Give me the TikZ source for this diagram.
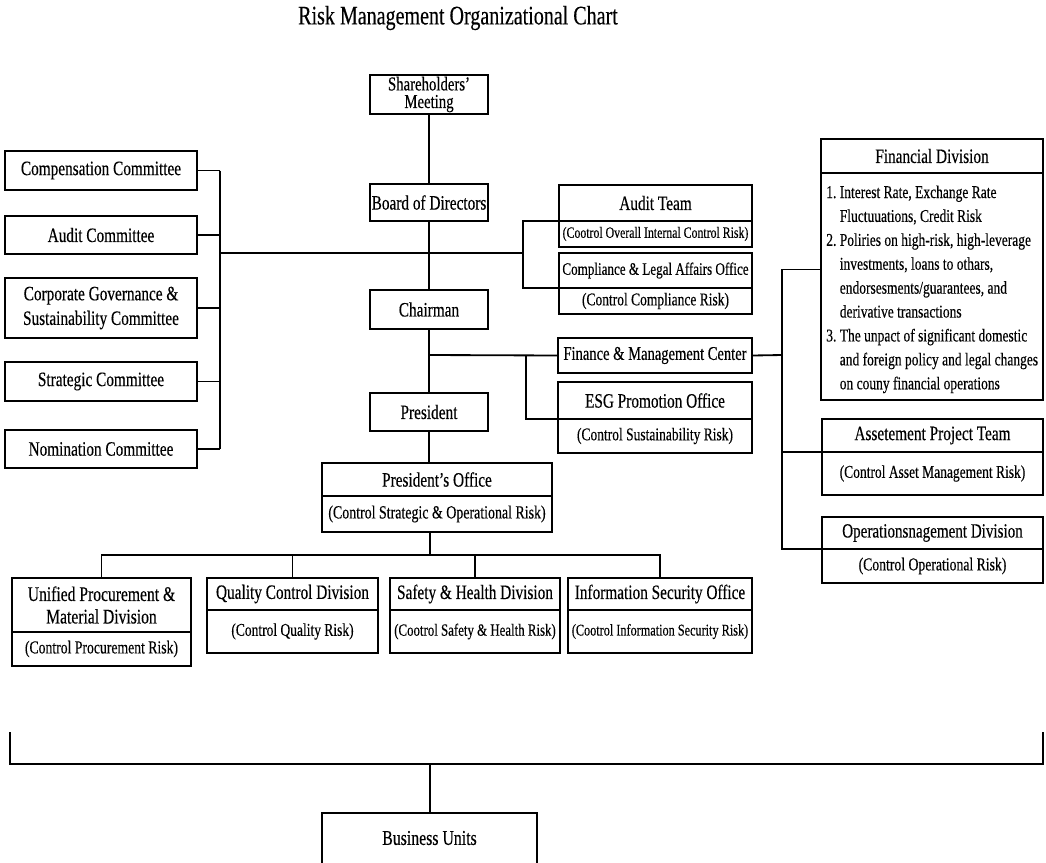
\documentclass[tikz,border=0pt]{standalone}
\usepackage{fontspec}
\setmainfont{Liberation Serif}[FakeStretch=0.75,FakeBold=0.3]
\usetikzlibrary{fit}

\tikzset{
  unit/.style={draw, line width=1.3pt, inner sep=0pt},
  link/.style={line width=1.3pt},
  head/.style={font=\fontsize{14.5}{17}\selectfont, align=center, inner sep=0pt},
  note/.style={font=\fontsize{12.8}{15}\selectfont, inner sep=0pt},
}

\begin{document}
\begin{tikzpicture}[x=0.025cm, y=-0.025cm]
                \useasboundingbox (0,0) rectangle (1046,862);
                \clip (0,0) rectangle (1046,862);

                % Title
                \node [font=\fontsize{19}{21}\selectfont] (title) at (458,18) {Risk Management Organizational Chart};%

                % Drawing main chain
                \node [unit, fit={(370,75) (488,114)}] (share) {};%
                \node [head, font=\fontsize{14}{12.5}\selectfont] (share-t) at (share) {Shareholders'\\Meeting};%
                \node [unit, fit={(370,184) (488,221)}] (board) {};%
                \node [head] (board-t) at (board) {Board of Directors};%
                \node [unit, fit={(370,290) (488,329)}] (chair) {};%
                \node [head] (chair-t) at (chair) {Chairman};%
                \node [unit, fit={(370,393) (488,431)}] (pres) {};%
                \node [head] (pres-t) at (pres) {President};%

                % Drawing committees
                \node [unit, fit={(5,151) (197,190)}] (comp) {};%
                \node [head] (comp-t) at (comp) {Compensation Committee};%
                \node [unit, fit={(5,216) (197,254)}] (audc) {};%
                \node [head] (audc-t) at (audc) {Audit Committee};%
                \node [unit, fit={(5,278) (197,338)}] (corp) {};%
                \node [head, font=\fontsize{14.5}{17.5}\selectfont] (corp-t) at (corp) {Corporate Governance \&\\Sustainability Committee};%
                \node [unit, fit={(5,362) (197,401)}] (strat) {};%
                \node [head] (strat-t) at (strat) {Strategic Committee};%
                \node [unit, fit={(5,430) (197,468)}] (nomi) {};%
                \node [head] (nomi-t) at (nomi) {Nomination Committee};%

                % Drawing box Audit Team
                \node [unit, fit={(559,185) (752,247)}] (audtm) {};%
                \coordinate (audtm-l) at (559,221);
                \coordinate (audtm-r) at (752,221);
                \draw [link] (audtm-l) -- (audtm-r);%
                \node [head] (audtm-h) at (655.5,203) {Audit Team};%
                \node [note, font=\fontsize{11.2}{13}\selectfont] (audtm-n) at (655.5,234) {(Cootrol Overall Internal Control Risk)};%

                % Drawing box Compliance
                \node [unit, fit={(559,253) (752,314)}] (compl) {};%
                \coordinate (compl-l) at (559,288);
                \coordinate (compl-r) at (752,288);
                \draw [link] (compl-l) -- (compl-r);%
                \node [head, font=\fontsize{12.4}{14}\selectfont] (compl-h) at (655.5,270.5) {Compliance \& Legal Affairs Office};%
                \node [note] (compl-n) at (655.5,301) {(Control Compliance Risk)};%

                % Drawing box Finance center
                \node [unit, fit={(558,338) (752,373)}] (fincen) {};%
                \node [head, font=\fontsize{13.8}{16}\selectfont] (fincen-t) at (fincen) {Finance \& Management Center};%

                % Drawing box ESG
                \node [unit, fit={(558,382) (752,453)}] (esg) {};%
                \coordinate (esg-l) at (558,419);
                \coordinate (esg-r) at (752,419);
                \draw [link] (esg-l) -- (esg-r);%
                \node [head] (esg-h) at (655,400.5) {ESG Promotion Office};%
                \node [note] (esg-n) at (655,436) {(Control Sustainability Risk)};%

                % Drawing box President's Office
                \node [unit, fit={(322,463) (552,532)}] (poff) {};%
                \coordinate (poff-l) at (322,496);
                \coordinate (poff-r) at (552,496);
                \draw [link] (poff-l) -- (poff-r);%
                \node [head] (poff-h) at (437,479.5) {President's Office};%
                \node [note, font=\fontsize{13.2}{15}\selectfont] (poff-n) at (437,514) {(Control Strategic \& Operational Risk)};%

                % Drawing bottom row
                \node [unit, fit={(12,578) (191,666)}] (unif) {};%
                \coordinate (unif-l) at (12,632);
                \coordinate (unif-r) at (191,632);
                \draw [link] (unif-l) -- (unif-r);%
                \node [head, font=\fontsize{14.8}{16}\selectfont] (unif-h) at (101.5,605) {Unified Procurement \&\\Material Division};%
                \node [note, font=\fontsize{13}{15}\selectfont] (unif-n) at (101.5,649) {(Control Procurement Risk)};%

                \node [unit, fit={(207,578) (378,653)}] (qual) {};%
                \coordinate (qual-l) at (207,610);
                \coordinate (qual-r) at (378,610);
                \draw [link] (qual-l) -- (qual-r);%
                \node [head] (qual-h) at (292.5,594) {Quality Control Division};%
                \node [note] (qual-n) at (292.5,631.5) {(Control Quality Risk)};%

                \node [unit, fit={(390,578) (560,653)}] (safe) {};%
                \coordinate (safe-l) at (390,610);
                \coordinate (safe-r) at (560,610);
                \draw [link] (safe-l) -- (safe-r);%
                \node [head] (safe-h) at (475,594) {Safety \& Health Division};%
                \node [note, font=\fontsize{12.2}{14}\selectfont] (safe-n) at (475,631.5) {(Cootrol Safety \& Health Risk)};%

                \node [unit, fit={(568,578) (752,653)}] (info) {};%
                \coordinate (info-l) at (568,610);
                \coordinate (info-r) at (752,610);
                \draw [link] (info-l) -- (info-r);%
                \node [head] (info-h) at (660,594) {Information Security Office};%
                \node [note, font=\fontsize{11.6}{14}\selectfont] (info-n) at (660,631.5) {(Cootrol Information Security Risk)};%

                % Drawing box Financial Division
                \node [unit, fit={(821,139) (1043,400)}] (findiv) {};%
                \coordinate (findiv-l) at (821,173);
                \coordinate (findiv-r) at (1043,173);
                \draw [link] (findiv-l) -- (findiv-r);%
                \node [head] (findiv-h) at (932,156) {Financial Division};%
                \node [anchor=north west, inner sep=0pt, font=\fontsize{12.8}{17}\selectfont] (findiv-n) at (826,181) {%
                  \begin{tabular}{@{}r@{\ }l@{}}
                  1. & Interest Rate, Exchange Rate\\
                     & Fluctuuations, Credit Risk\\
                  2. & Poliries on high-risk, high-leverage\\
                     & investments, loans to othars,\\
                     & endorsesments/guarantees, and\\
                     & derivative transactions\\
                  3. & The unpact of significant domestic\\
                     & and foreign policy and legal changes\\
                     & on couny financial operations
                  \end{tabular}};%

                % Drawing box Assetement Project Team
                \node [unit, fit={(822,419) (1043,495)}] (asset) {};%
                \coordinate (asset-l) at (822,452);
                \coordinate (asset-r) at (1043,452);
                \draw [link] (asset-l) -- (asset-r);%
                \node [head] (asset-h) at (932.5,435.5) {Assetement Project Team};%
                \node [note] (asset-n) at (932.5,473.5) {(Control Asset Management Risk)};%

                % Drawing box Operations
                \node [unit, fit={(822,517) (1043,583)}] (ops) {};%
                \coordinate (ops-l) at (822,549);
                \coordinate (ops-r) at (1043,549);
                \draw [link] (ops-l) -- (ops-r);%
                \node [head, font=\fontsize{14.3}{16}\selectfont] (ops-h) at (932.5,533) {Operationsnagement Division};%
                \node [note, font=\fontsize{13}{15}\selectfont] (ops-n) at (932.5,566) {(Control Operational Risk)};%

                % Drawing box Business Units
                \node [unit, fit={(322,813) (537,866)}] (units) {};%
                \node [head, font=\fontsize{15}{17}\selectfont] (units-t) at (429.5,838) {Business Units};%

                % Drawing trunk
                \draw [link] (share) -- (board);%
                \draw [link] (board) -- (chair);%
                \draw [link] (chair) -- (pres);%
                \draw [link] (pres.south) -- (pres.south |- poff.north);%

                % Drawing committee bracket
                \coordinate (cbar) at (220,253);
                \coordinate (rbar) at (523,253);
                \draw [link] (cbar) -- (rbar);%
                \foreach \c in {comp,audc,corp,strat,nomi}
                  \draw [link] (\c.east) -- (\c.east -| cbar);%
                \draw [link] (comp.east -| cbar) -- (nomi.east -| cbar);%
                \draw [link] (audtm-l) -| (rbar) |- (compl-l);%

                % Drawing finance branch
                \coordinate (fjoin) at (430,355);
                \coordinate (ebar) at (526,355);
                \coordinate (rtrunk) at (782,355);
                \draw [link] (fjoin) -- (fincen.west);%
                \draw [link] (ebar) |- (esg-l);%
                \draw [link] (fincen.east) -- (rtrunk);%
                \draw [link] (findiv.west) -| (ops-l -| rtrunk) -- (ops-l);%
                \draw [link] (asset-l -| rtrunk) -- (asset-l);%

                % Drawing division bus
                \coordinate (bus) at (430,555);
                \draw [link] (poff.south -| bus) -- (bus);%
                \draw [link] (unif.north) |- (info.north |- bus) -- (info.north);%
                \foreach \d in {qual,safe}
                  \draw [link] (\d.north) -- (\d.north |- bus);%

                % Drawing business units bracket
                \coordinate (bl) at (10,732);
                \coordinate (br) at (1043,732);
                \coordinate (bmid) at (430,764);
                \draw [link] (bl) |- (bmid) -| (br);%
                \draw [link] (bmid) -- (bmid |- units.north);%
\end{tikzpicture}
\end{document}
